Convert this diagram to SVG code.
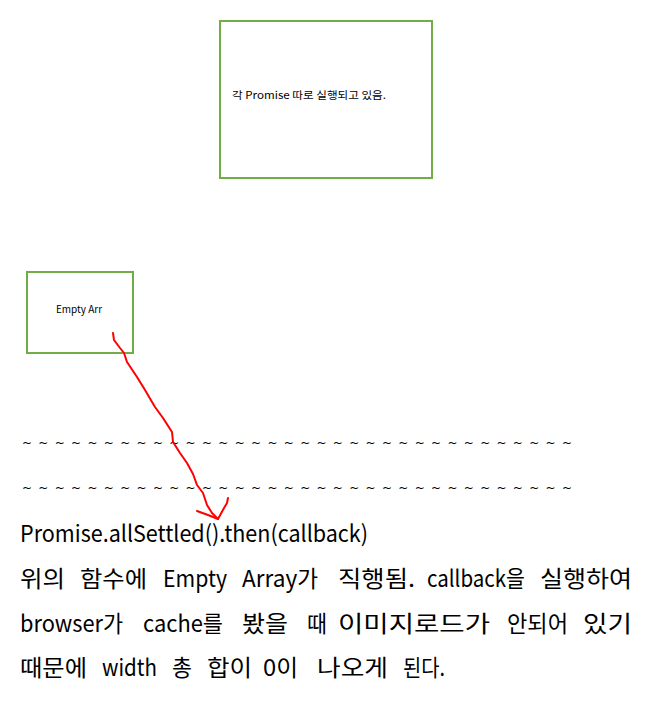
<svg xmlns="http://www.w3.org/2000/svg" width="655" height="703" viewBox="0 0 655 703">
<style>
.box{fill:#ffffff;stroke:#70AD47;stroke-width:2}
.lbl{font-family:"Noto Sans CJK KR","Noto Sans",sans-serif;fill:#000}
.tilde{font-family:"DejaVu Sans",sans-serif;font-size:12px;fill:#000}
.body{font-family:"Noto Sans CJK KR","Noto Sans",sans-serif;font-size:23px;fill:#000}
.ink{fill:none;stroke:#FF0000;stroke-width:2;stroke-linecap:round;stroke-linejoin:round}
</style>
<rect width="655" height="703" fill="#ffffff"/>
<g id="node-promise">
<rect class="box" x="220" y="21" width="212" height="157"/>
<text class="lbl" x="232" y="99" font-size="10.5" textLength="154" lengthAdjust="spacingAndGlyphs">각 Promise 따로 실행되고 있음.</text>
</g>
<g id="node-empty">
<rect class="box" x="27" y="272" width="106" height="81"/>
<text class="lbl" x="79" y="313" font-size="10" text-anchor="middle">Empty Arr</text>
</g>
<g id="tildes">
<text class="tilde" x="22" y="447" textLength="550" lengthAdjust="spacing">~~~~~~~~~~~~~~~~~~~~~~~~~~~~~~~~~~</text>
<text class="tilde" x="22" y="492" textLength="550" lengthAdjust="spacing">~~~~~~~~~~~~~~~~~~~~~~~~~~~~~~~~~~</text>
</g>
<g id="connectors">
<path class="ink" d="M113,333 L114,340 L120,348 L124,353 L127,362 L137,377 L145,390 L155,407 L163,418 L172,432 L173,442 L180,453 L187,463 L193,474 L197,485 L203,493 L207,505 L212,513 L218,519"/>
<path class="ink" d="M197,511 L208,515 L218,519 L224,508 L227,503 L228,498"/>
</g>
<g id="body-text">
<text class="body" x="20" y="542" textLength="348" lengthAdjust="spacingAndGlyphs">Promise.allSettled().then(callback)</text>
<text class="body" y="587"><tspan x="20" textLength="45" lengthAdjust="spacingAndGlyphs">위의</tspan><tspan x="80" textLength="67" lengthAdjust="spacingAndGlyphs">함수에</tspan><tspan x="163" textLength="64" lengthAdjust="spacingAndGlyphs">Empty</tspan><tspan x="242" textLength="76" lengthAdjust="spacingAndGlyphs">Array가</tspan><tspan x="338" textLength="77" lengthAdjust="spacingAndGlyphs">직행됨.</tspan><tspan x="427" textLength="98" lengthAdjust="spacingAndGlyphs">callback을</tspan><tspan x="540" textLength="92" lengthAdjust="spacingAndGlyphs">실행하여</tspan></text>
<text class="body" y="632"><tspan x="20" textLength="103" lengthAdjust="spacingAndGlyphs">browser가</tspan><tspan x="143" textLength="80" lengthAdjust="spacingAndGlyphs">cache를</tspan><tspan x="242" textLength="46" lengthAdjust="spacingAndGlyphs">봤을</tspan><tspan x="307" textLength="20" lengthAdjust="spacingAndGlyphs">때</tspan><tspan x="338" textLength="152" lengthAdjust="spacingAndGlyphs">이미지로드가</tspan><tspan x="507" textLength="61" lengthAdjust="spacingAndGlyphs">안되어</tspan><tspan x="583" textLength="49" lengthAdjust="spacingAndGlyphs">있기</tspan></text>
<text class="body" y="676"><tspan x="20" textLength="67" lengthAdjust="spacingAndGlyphs">때문에</tspan><tspan x="102" textLength="55" lengthAdjust="spacingAndGlyphs">width</tspan><tspan x="172" textLength="20" lengthAdjust="spacingAndGlyphs">총</tspan><tspan x="207" textLength="45" lengthAdjust="spacingAndGlyphs">합이</tspan><tspan x="263" textLength="35" lengthAdjust="spacingAndGlyphs">0이</tspan><tspan x="317" textLength="71" lengthAdjust="spacingAndGlyphs">나오게</tspan><tspan x="403" textLength="42" lengthAdjust="spacingAndGlyphs">된다.</tspan></text>
</g>
</svg>
